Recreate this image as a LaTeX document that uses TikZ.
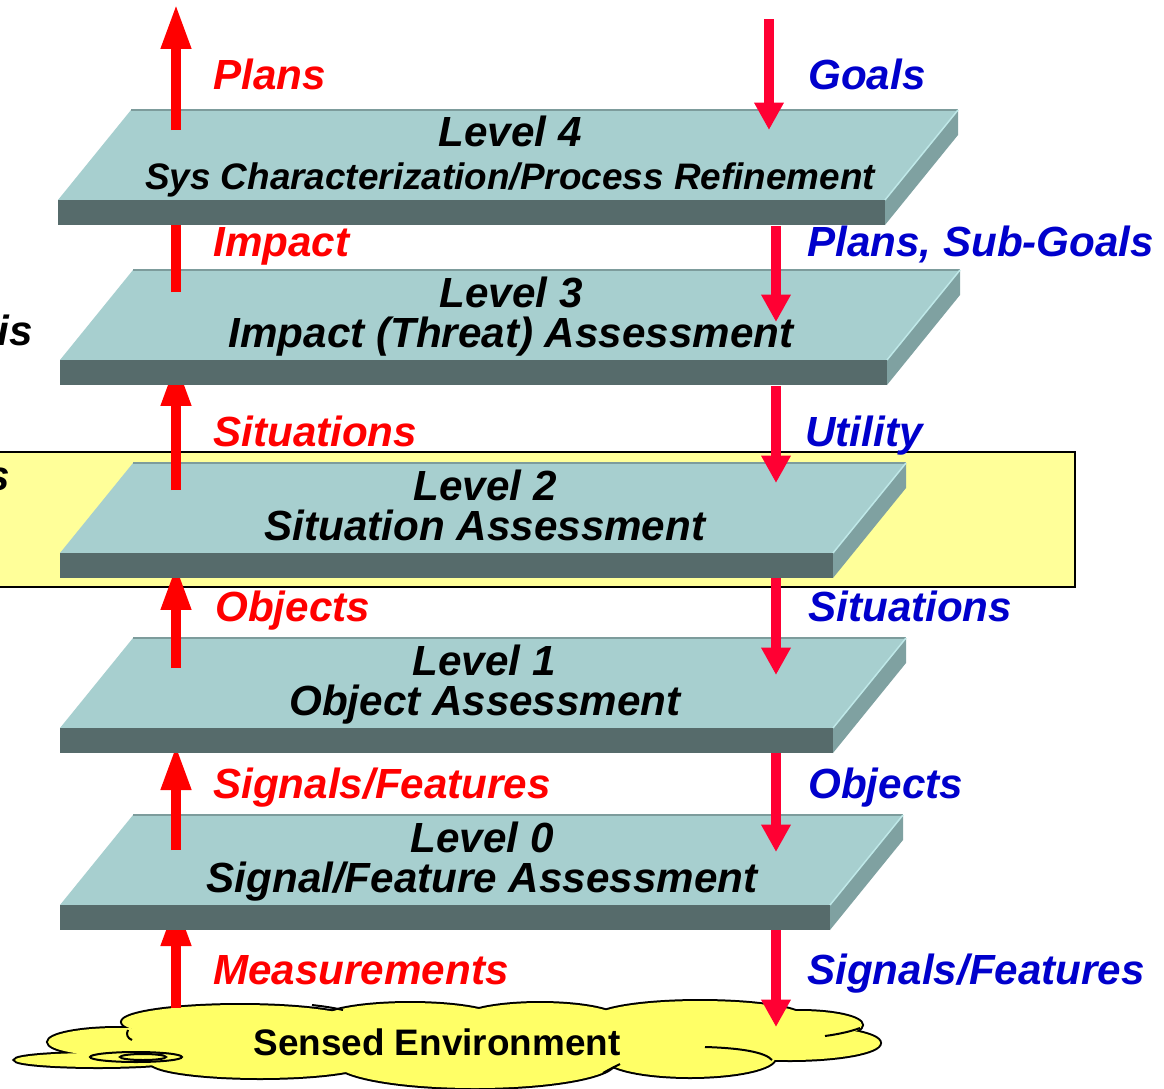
\documentclass[tikz,border=0pt]{standalone}
\usepackage{fontspec}
\setmainfont{Liberation Sans}
\usetikzlibrary{arrows.meta}

\definecolor{slabtop}{HTML}{A7CFCF}
\definecolor{slabfront}{HTML}{566B6B}
\definecolor{slabside}{HTML}{7FA1A1}
\definecolor{slabedge}{HTML}{7D9C9C}
\definecolor{slablight}{HTML}{BFE8E8}
\definecolor{boxyellow}{HTML}{FFFF99}
\definecolor{cloudyellow}{HTML}{FFFF66}
\definecolor{uparrow}{HTML}{FF0000}
\definecolor{downarrow}{HTML}{FF0033}
\definecolor{labred}{HTML}{FF0000}
\definecolor{labblue}{HTML}{0000CC}

\newcommand{\slab}[3]{
\fill[slabtop] (#1+73,#3-90) -- (#2+73,#3-90) -- (#2,#3) -- (#1,#3) -- cycle;
\draw[slabedge, line width=0.04cm] (#1+73,#3-90) -- (#2+73,#3-90);
\fill[slabfront] (#1,#3) rectangle (#2,#3+25);
\fill[slabside] (#2,#3) -- (#2+73,#3-90) -- (#2+73,#3-65) -- (#2,#3+25) -- cycle;
\draw[slablight, line width=0.03cm] (#2,#3) -- (#2+73,#3-90);
}

\begin{document}
\begin{tikzpicture}[x=0.02cm, y=-0.02cm,
  uparr/.style={uparrow, line width=0.2cm, -{Triangle[width=0.56cm, length=0.9cm]}},
  downarr/.style={downarrow, line width=0.2cm, -{Triangle[width=0.56cm, length=0.55cm]}},
  lblred/.style={text=labred, font=\fontsize{24}{28}\selectfont\bfseries\itshape, anchor=base west, inner sep=0pt},
  lblblue/.style={text=labblue, font=\fontsize{24}{28}\selectfont\bfseries\itshape, anchor=base west, inner sep=0pt},
  lvl/.style={font=\fontsize{24}{28}\selectfont\bfseries\itshape, anchor=base, inner sep=0pt},
  cloudline/.style={draw=black, line width=0.08cm},
  cloudfill/.style={fill=cloudyellow}]
\clip (0,0) rectangle (1164,1089);
\fill[white] (0,0) rectangle (1164,1089);

\draw[fill=boxyellow, line width=0.05cm] (-10,452) rectangle (1075,587);
\node[lvl, anchor=base east] (lefttxta) at (33,345) {sis};
\node[lvl, anchor=base east] (lefttxtb) at (10,490) {s};

\foreach \cx/\cy/\rx/\ry in {98/1060/83/7, 118/1042/70/14, 240/1022/118/17, 410/1020/90/17, 540/1020/80/17, 700/1018/105/17, 800/1025/62/14, 790/1043/90/17, 690/1058/85/19, 475/1062/140/26, 260/1062/110/16}
  \draw[cloudline] (\cx,\cy) ellipse [x radius=\rx, y radius=\ry];
\foreach \cx/\cy/\rx/\ry in {98/1060/83/7, 118/1042/70/14, 240/1022/118/17, 410/1020/90/17, 540/1020/80/17, 700/1018/105/17, 800/1025/62/14, 790/1043/90/17, 690/1058/85/19, 475/1062/140/26, 260/1062/110/16, 450/1040/340/25}
  \fill[cloudfill] (\cx,\cy) ellipse [x radius=\rx, y radius=\ry];
\draw[line width=0.04cm] (136,1057) ellipse [x radius=46, y radius=5];
\draw[line width=0.04cm] (143,1057) ellipse [x radius=23, y radius=3];
\draw[line width=0.04cm] (705,1047) .. controls (740,1048) and (765,1052) .. (772,1060);
\draw[line width=0.04cm] (825,1036) .. controls (840,1034) and (852,1031) .. (860,1028);
\draw[line width=0.04cm] (603,1073) .. controls (610,1069) and (616,1066) .. (620,1064);
\draw[line width=0.04cm] (128,1030) .. controls (126,1034) and (127,1038) .. (132,1040);
\draw[line width=0.04cm] (343,1010) .. controls (330,1007) and (320,1006) .. (312,1005);
\node[font=\fontsize{21}{25}\selectfont\bfseries, inner sep=0pt, anchor=base] (env) at (437,1055) {Sensed Environment};

\coordinate (meas0) at (176,1008);
\coordinate (meas1) at (176,901);
\coordinate (sig0) at (776,930);
\coordinate (sig1) at (776,1027);
\draw[uparr] (meas0) -- (meas1);
\draw[downarr] (sig0) -- (sig1);

\slab{60}{830}{905}
\node[lvl] (lvl0a) at (482,852) {Level 0};
\node[lvl] (lvl0b) at (482,892) {Signal/Feature Assessment};

\coordinate (feat0) at (176,850);
\coordinate (feat1) at (176,745);
\coordinate (obj0) at (776,753);
\coordinate (obj1) at (776,852);
\draw[uparr] (feat0) -- (feat1);
\draw[downarr] (obj0) -- (obj1);

\slab{60}{833}{728}
\node[lvl] (lvl1a) at (484,675) {Level 1};
\node[lvl] (lvl1b) at (485,715) {Object Assessment};

\coordinate (objup0) at (176,668);
\coordinate (objup1) at (176,565);
\coordinate (sit0) at (776,578);
\coordinate (sit1) at (776,675);
\draw[uparr] (objup0) -- (objup1);
\draw[downarr] (sit0) -- (sit1);

\slab{60}{833}{553}
\node[lvl] (lvl2a) at (485,500) {Level 2};
\node[lvl] (lvl2b) at (485,540) {Situation Assessment};

\coordinate (situp0) at (176,490);
\coordinate (situp1) at (176,361);
\coordinate (util0) at (776,386);
\coordinate (util1) at (776,483);
\draw[uparr] (situp0) -- (situp1);
\draw[downarr] (util0) -- (util1);

\slab{60}{887}{360}
\node[lvl] (lvl3a) at (511,307) {Level 3};
\node[lvl] (lvl3b) at (511,347) {Impact (Threat) Assessment};

\coordinate (imp0) at (176,292);
\coordinate (imp1) at (176,176);
\coordinate (subg0) at (776,226);
\coordinate (subg1) at (776,322);
\draw[uparr] (imp0) -- (imp1);
\draw[downarr] (subg0) -- (subg1);

\slab{58}{885}{200}
\node[lvl] (lvl4a) at (510,146) {Level 4};
\node[lvl, font=\fontsize{21}{25}\selectfont\bfseries\itshape] (lvl4b) at (510,189) {Sys Characterization/Process Refinement};

\coordinate (plan0) at (176,130);
\coordinate (plan1) at (176,4);
\coordinate (goal0) at (769,19);
\coordinate (goal1) at (769,130);
\draw[uparr] (plan0) -- (plan1);
\draw[downarr] (goal0) -- (goal1);

\node[lblred] (rplans) at (213,89) {Plans};
\node[lblred] (rimpact) at (213,256) {Impact};
\node[lblred] (rsit) at (213,446) {Situations};
\node[lblred] (robj) at (215,621) {Objects};
\node[lblred] (rsig) at (213,798) {Signals/Features};
\node[lblred] (rmeas) at (213,984) {Measurements};

\node[lblblue] (bgoals) at (808,89) {Goals};
\node[lblblue] (bplans) at (807,256) {Plans, Sub-Goals};
\node[lblblue] (butil) at (805,446) {Utility};
\node[lblblue] (bsit) at (808,621) {Situations};
\node[lblblue] (bobj) at (808,798) {Objects};
\node[lblblue] (bsig) at (807,984) {Signals/Features};
\end{tikzpicture}
\end{document}
